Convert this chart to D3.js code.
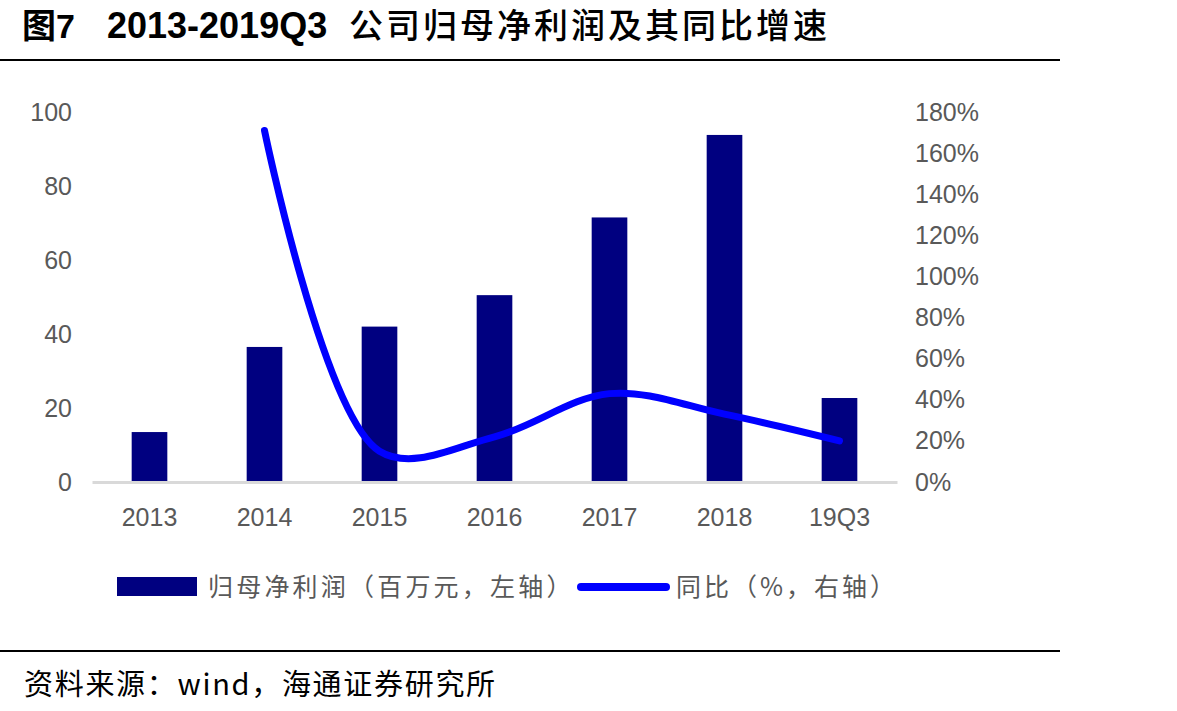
<!DOCTYPE html>
<html>
<head>
<meta charset="utf-8">
<script src="https://cdn.jsdelivr.net/npm/d3@7"></script>
<style>
  body { margin: 0; background: #fff; }
  svg { display: block; }
</style>
</head>
<body>
<div id="chart"></div>
<script>
// data
var categories = ["2013", "2014", "2015", "2016", "2017", "2018", "19Q3"];
var profit = [13.5, 36.5, 42, 50.5, 71.5, 93.8, 22.7];     // 百万元, left axis
var yoy = [null, 171, 15, 22, 43, 33, 20];                 // %, right axis
var leftTicks = [0, 20, 40, 60, 80, 100];
var rightTicks = [0, 20, 40, 60, 80, 100, 120, 140, 160, 180];

var W = 1177, H = 711;
var cjk = "'Noto Sans CJK SC', sans-serif";
var latin = "'Liberation Sans', Arial, sans-serif";

var svg = d3.select("#chart").append("svg")
    .attr("width", W)
    .attr("height", H);

// title, split in three parts so the gaps match
var title = svg.append("text")
    .attr("y", 38)
    .attr("fill", "#000");
title.append("tspan")
    .attr("x", 22)
    .style("font-family", latin + ", " + cjk)
    .style("font-weight", "bold")
    .style("font-size", "34px")
    .text("图7");
title.append("tspan")
    .attr("x", 107)
    .style("font-family", latin)
    .style("font-weight", "bold")
    .style("font-size", "36px")
    .text("2013-2019Q3");
title.append("tspan")
    .attr("x", 349)
    .style("font-family", cjk)
    .style("font-weight", "500")
    .style("font-size", "34px")
    .style("letter-spacing", "3px")
    .text("公司归母净利润及其同比增速");

svg.append("line")
    .attr("x1", 0).attr("x2", 1060)
    .attr("y1", 60).attr("y2", 60)
    .attr("stroke", "#000").attr("stroke-width", 2);

svg.append("line")
    .attr("x1", 0).attr("x2", 1060)
    .attr("y1", 651).attr("y2", 651)
    .attr("stroke", "#000").attr("stroke-width", 2);

svg.append("text")
    .attr("x", 24)
    .attr("y", 695)
    .style("font-family", cjk)
    .style("font-size", "29px")
    .style("letter-spacing", "1.7px")
    .attr("fill", "#000")
    .text("资料来源：wind，海通证券研究所");

// scales
var x = d3.scaleBand().domain(categories).range([92, 897]);
var yL = d3.scaleLinear().domain([0, 100]).range([482, 112]);
var yR = d3.scaleLinear().domain([0, 180]).range([482, 112]);
var barW = x.bandwidth() * 0.31;

// left axis labels
var leftAxis = d3.axisLeft(yL).tickValues(leftTicks).tickSize(0).tickPadding(0);
svg.append("g")
    .attr("transform", "translate(72,0)")
    .call(leftAxis)
    .call(function (g) { g.select(".domain").remove(); })
    .selectAll("text")
    .style("font-family", latin)
    .style("font-size", "25px")
    .attr("fill", "#595959");

// right axis labels
var rightAxis = d3.axisRight(yR).tickValues(rightTicks).tickSize(0).tickPadding(0)
    .tickFormat(function (d) { return d + "%"; });
svg.append("g")
    .attr("transform", "translate(915,0)")
    .call(rightAxis)
    .call(function (g) { g.select(".domain").remove(); })
    .selectAll("text")
    .style("font-family", latin)
    .style("font-size", "25px")
    .attr("fill", "#595959");

// bars
svg.selectAll("rect.bar").data(profit)
    .enter().append("rect")
    .attr("class", "bar")
    .attr("x", function (d, i) { return x(categories[i]) + x.bandwidth() / 2 - barW / 2; })
    .attr("y", function (d) { return yL(d); })
    .attr("width", barW)
    .attr("height", function (d) { return yL(0) - yL(d); })
    .attr("fill", "#000080");

// category axis
var xAxis = d3.axisBottom(x).tickSize(0).tickPadding(26);
svg.append("g")
    .attr("transform", "translate(0,482)")
    .call(xAxis)
    .call(function (g) {
        g.select(".domain").attr("stroke", "#d9d9d9").attr("stroke-width", 3);
    })
    .selectAll("text")
    .style("font-family", latin)
    .style("font-size", "25px")
    .attr("fill", "#595959");

// yoy line
var pts = [];
yoy.forEach(function (v, i) {
    if (v !== null) pts.push([x(categories[i]) + x.bandwidth() / 2, yR(v)]);
});
var line = d3.line().curve(d3.curveCatmullRom.alpha(0.5));
svg.append("path")
    .attr("d", line(pts))
    .attr("fill", "none")
    .attr("stroke", "#0000ff")
    .attr("stroke-width", 7)
    .attr("stroke-linecap", "round")
    .attr("stroke-linejoin", "round");

// legend
var lg = svg.append("g");
lg.append("rect")
    .attr("x", 117).attr("y", 577)
    .attr("width", 80).attr("height", 19)
    .attr("fill", "#000080");
lg.append("text")
    .attr("x", 208).attr("y", 596)
    .style("font-family", cjk)
    .style("font-size", "25px")
    .style("letter-spacing", "3.2px")
    .attr("fill", "#595959")
    .text("归母净利润（百万元，左轴）");
lg.append("line")
    .attr("x1", 581).attr("x2", 666)
    .attr("y1", 587).attr("y2", 587)
    .attr("stroke", "#0000ff")
    .attr("stroke-width", 8)
    .attr("stroke-linecap", "round");
lg.append("text")
    .attr("x", 676).attr("y", 596)
    .style("font-family", cjk)
    .style("font-size", "25px")
    .style("letter-spacing", "3px")
    .attr("fill", "#595959")
    .text("同比（%，右轴）");
</script>
</body>
</html>
